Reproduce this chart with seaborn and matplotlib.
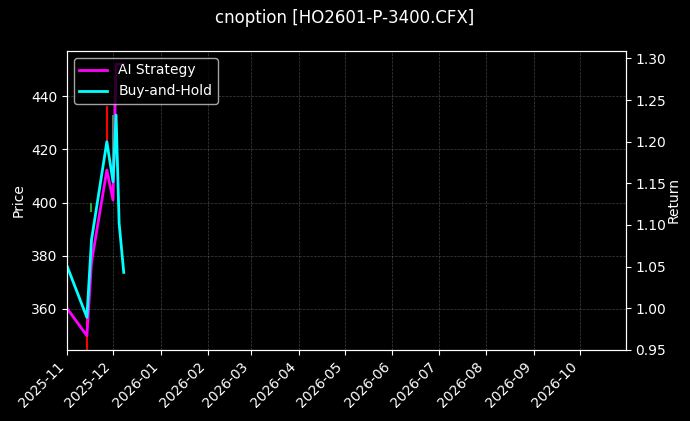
import numpy as np
import pandas as pd
import matplotlib.pyplot as plt
import matplotlib.dates as mdates
import seaborn as sns

# return curves
dates = pd.to_datetime(["2025-11-01", "2025-11-14", "2025-11-17", "2025-11-27",
                        "2025-12-01", "2025-12-03", "2025-12-05", "2025-12-08"])
ai_return = [1.000, 0.967, 1.055, 1.166, 1.130, 1.293, 1.293, 1.293]
bh_return = [1.051, 0.989, 1.082, 1.200, 1.152, 1.232, 1.102, 1.043]

# price bars (high-low) that show through
bar_dates = pd.to_datetime(["2025-11-14", "2025-11-17", "2025-11-27", "2025-12-01", "2025-12-03"])
bar_high = [357, 400.0, 436.2, 433, 452]
bar_low = [340, 396.3, 420, 410, 438]
bar_up = [False, True, False, True, False]

df = pd.DataFrame({"Date": dates, "AI Strategy": ai_return, "Buy-and-Hold": bh_return})


def draw(df):
    plt.style.use("dark_background")
    fig, ax1 = plt.subplots(figsize=(6.9, 4.21), dpi=100)
    fig.subplots_adjust(left=0.097, right=0.907, top=0.879, bottom=0.169)

    colors = ["#22aa22" if u else "red" for u in bar_up]
    ax1.vlines(bar_dates, bar_low, bar_high, colors=colors, linewidth=1.5)
    ax1.set_ylim(344.6, 457)
    ax1.set_ylabel("Price")
    ax1.grid(True, linestyle="--", linewidth=0.5, color="gray", alpha=0.5)

    ax2 = ax1.twinx()
    sns.lineplot(data=df, x="Date", y="AI Strategy", ax=ax2, color="#ff00ff",
                 linewidth=2, label="AI Strategy")
    sns.lineplot(data=df, x="Date", y="Buy-and-Hold", ax=ax2, color="#00ffff",
                 linewidth=2, label="Buy-and-Hold")
    ax2.set_ylim(0.95, 1.309)
    ax2.set_ylabel("Return", labelpad=0)
    ax2.set_xlabel("")
    ax2.legend(loc="upper left")

    ax1.set_xlim(pd.Timestamp("2025-11-01"), pd.Timestamp("2026-10-31"))
    ax1.xaxis.set_major_locator(mdates.MonthLocator())
    ax1.xaxis.set_major_formatter(mdates.DateFormatter("%Y-%m"))
    ax1.set_xlabel("")
    plt.setp(ax1.get_xticklabels(), rotation=45, ha="right")

    fig.suptitle("cnoption [HO2601-P-3400.CFX]", fontsize=12, y=0.978)
    fig.savefig("out.png", dpi=100)


if __name__ == "__main__":
    draw(df)
